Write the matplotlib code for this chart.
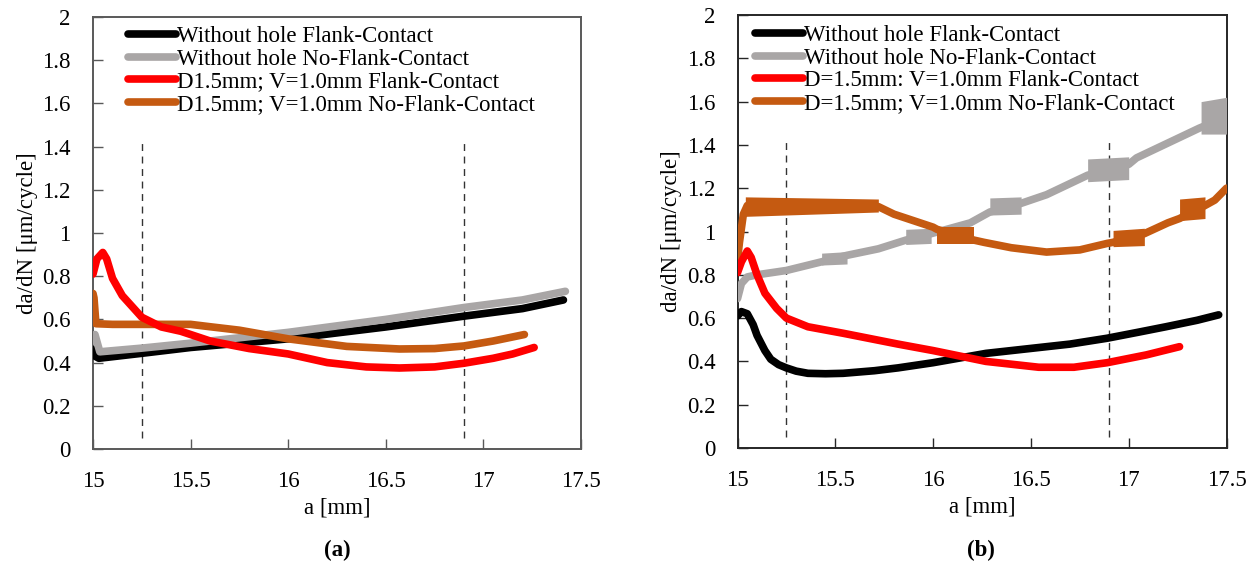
import matplotlib
matplotlib.use("Agg")
import matplotlib.pyplot as plt
import numpy as np

plt.rcParams['font.family'] = ['Liberation Serif', 'DejaVu Serif']
plt.rcParams['font.size'] = 16.5

# ---------------- data: panel (a) ----------------
a_blk_a = [15.0, 15.01, 15.03, 15.25, 15.5, 16.0, 16.5, 16.9, 17.2, 17.41]
v_blk_a = [0.46, 0.43, 0.42, 0.443, 0.47, 0.51, 0.565, 0.615, 0.65, 0.69]

a_gry_a = [15.0, 15.01, 15.035, 15.25, 15.5, 16.0, 16.5, 16.9, 17.2, 17.42]
v_gry_a = [0.50, 0.53, 0.45, 0.467, 0.49, 0.54, 0.60, 0.655, 0.69, 0.73]

a_red_a = [15.0, 15.02, 15.05, 15.07, 15.10, 15.15, 15.19, 15.25, 15.35, 15.45, 15.6,
           15.8, 16.0, 16.2, 16.4, 16.57, 16.75, 16.9, 17.05, 17.15, 17.26]
v_red_a = [0.81, 0.88, 0.91, 0.88, 0.79, 0.71, 0.67, 0.61, 0.565, 0.545, 0.50,
           0.465, 0.44, 0.40, 0.38, 0.375, 0.38, 0.397, 0.42, 0.44, 0.47]

a_org_a = [15.0, 15.005, 15.015, 15.1, 15.25, 15.5, 15.6, 15.75, 16.0, 16.3, 16.57,
           16.75, 16.9, 17.05, 17.21]
v_org_a = [0.72, 0.70, 0.58, 0.577, 0.577, 0.577, 0.566, 0.55, 0.51, 0.475, 0.463,
           0.465, 0.477, 0.50, 0.53]

labels_a = ["Without hole Flank-Contact", "Without hole No-Flank-Contact",
            "D1.5mm; V=1.0mm Flank-Contact", "D1.5mm; V=1.0mm No-Flank-Contact"]

# ---------------- data: panel (b) ----------------
a_blk_b = [15.0, 15.02, 15.05, 15.08, 15.10, 15.14, 15.17, 15.21, 15.25, 15.3, 15.36,
           15.45, 15.54, 15.7, 15.82, 16.0, 16.27, 16.5, 16.7, 16.89, 17.05, 17.19,
           17.35, 17.46]
v_blk_b = [0.61, 0.63, 0.62, 0.57, 0.52, 0.45, 0.41, 0.385, 0.37, 0.355, 0.345,
           0.343, 0.345, 0.357, 0.37, 0.394, 0.437, 0.46, 0.48, 0.507, 0.535, 0.56,
           0.59, 0.615]

a_gry_b = [15.0, 15.02, 15.05, 15.1, 15.25, 15.43, 15.56, 15.72, 15.86, 15.99, 16.19,
           16.29, 16.45, 16.58, 16.79, 17.0, 17.04, 17.36, 17.5]
v_gry_b = [0.69, 0.76, 0.79, 0.80, 0.82, 0.86, 0.89, 0.92, 0.96, 0.99, 1.04,
           1.09, 1.13, 1.17, 1.26, 1.31, 1.34, 1.477, 1.53]
# oscillation bands: (a start, a end, low start, low end, high start, high end)
bands_gry_b = [(15.43, 15.56, 0.845, 0.85, 0.90, 0.907),
               (15.86, 15.99, 0.94, 0.945, 1.01, 1.015),
               (16.29, 16.45, 1.076, 1.08, 1.155, 1.16),
               (16.79, 17.00, 1.23, 1.24, 1.335, 1.345),
               (17.37, 17.50, 1.45, 1.45, 1.60, 1.62)]

a_org_b = [15.0, 15.01, 15.03, 15.05, 15.3, 15.5, 15.72, 15.8, 16.0, 16.02, 16.21,
           16.26, 16.4, 16.58, 16.75, 16.89, 16.92, 17.08, 17.2, 17.26, 17.39, 17.44, 17.5]
v_org_b = [0.87, 0.95, 1.08, 1.12, 1.12, 1.12, 1.115, 1.08, 1.02, 1.01, 0.96,
           0.95, 0.925, 0.905, 0.915, 0.945, 0.95, 0.99, 1.04, 1.06, 1.12, 1.145, 1.20]
bands_org_b = [(15.04, 15.72, 1.07, 1.09, 1.16, 1.15),
               (16.02, 16.21, 0.94, 0.94, 1.02, 1.02),
               (16.92, 17.08, 0.93, 0.935, 1.005, 1.015),
               (17.26, 17.39, 1.05, 1.06, 1.15, 1.16)]

a_red_b = [15.0, 15.02, 15.05, 15.07, 15.10, 15.14, 15.2, 15.25, 15.36, 15.54, 15.82,
           16.0, 16.27, 16.54, 16.72, 16.89, 17.09, 17.26]
v_red_b = [0.81, 0.86, 0.91, 0.88, 0.80, 0.715, 0.645, 0.60, 0.56, 0.53, 0.48,
           0.45, 0.40, 0.373, 0.373, 0.394, 0.43, 0.468]

labels_b = ["Without hole Flank-Contact", "Without hole No-Flank-Contact",
            "D=1.5mm: V=1.0mm Flank-Contact", "D=1.5mm; V=1.0mm No-Flank-Contact"]

dashed_x = [15.25, 16.9]
x_ticks = [15, 15.5, 16, 16.5, 17, 17.5]
x_ticklabels = ["15", "15.5", "16", "16.5", "17", "17.5"]
y_ticks = [0, 0.2, 0.4, 0.6, 0.8, 1.0, 1.2, 1.4, 1.6, 1.8, 2.0]
y_ticklabels = ["0", "0.2", "0.4", "0.6", "0.8", "1", "1.2", "1.4", "1.6", "1.8", "2"]

C_BLK = "#000000"
C_GRY = "#A9A6A6"
C_RED = "#FF0000"
C_ORG = "#C55A11"
LW = 5.5

fig = plt.figure(figsize=(12.58, 5.63), dpi=100)
W, H = 1258, 563
ax1 = fig.add_axes([93 / W, (H - 449) / H, 488 / W, 432 / H])
ax2 = fig.add_axes([737.5 / W, (H - 448) / H, 489 / W, 433 / H])


def style(ax, spine_col):
    ax.set_xlim(15, 17.5)
    ax.set_ylim(0, 2)
    ax.set_xticks(x_ticks)
    ax.set_xticklabels(x_ticklabels)
    ax.set_yticks(y_ticks)
    ax.set_yticklabels(y_ticklabels)
    ax.tick_params(direction='in', length=7, width=1.0, color=spine_col, pad=16,
                   labelsize=16.5)
    for s in ax.spines.values():
        s.set_color(spine_col)
        s.set_linewidth(1.4)
    ax.set_xlabel("a [mm]", labelpad=4)
    ax.set_ylabel("da/dN [μm/cycle]", labelpad=3)
    for xd in dashed_x:
        ax.plot([xd, xd], [0.05, 1.42], color="#333333", lw=1.0,
                dashes=(5, 4), zorder=1)


def bands(ax, blist, color, z):
    for (x0, x1, l0, l1, h0, h1) in blist:
        ax.fill_between([x0, x1], [l0, l1], [h0, h1], color=color, lw=0, zorder=z)


style(ax1, "#595959")
style(ax2, "#262626")

kw = dict(lw=LW, solid_capstyle='round', solid_joinstyle='round')
h1 = ax1.plot(a_blk_a, v_blk_a, color=C_BLK, zorder=3, **kw)[0]
h2 = ax1.plot(a_gry_a, v_gry_a, color=C_GRY, zorder=3, **kw)[0]
h4 = ax1.plot(a_org_a, v_org_a, color=C_ORG, zorder=4, **kw)[0]
h3 = ax1.plot(a_red_a, v_red_a, color=C_RED, zorder=5, **kw)[0]

g1 = ax2.plot(a_blk_b, v_blk_b, color=C_BLK, zorder=3, **kw)[0]
g2 = ax2.plot(a_gry_b, v_gry_b, color=C_GRY, zorder=3, **kw)[0]
bands(ax2, bands_gry_b, C_GRY, 3)
g4 = ax2.plot(a_org_b, v_org_b, color=C_ORG, zorder=4, **kw)[0]
bands(ax2, bands_org_b, C_ORG, 4)
g3 = ax2.plot(a_red_b, v_red_b, color=C_RED, zorder=5, **kw)[0]

leg_kw = dict(loc='upper left', frameon=False, handlelength=2.1, handletextpad=0.05,
              labelspacing=0.07, borderpad=0, borderaxespad=0, fontsize=16.5)
ax1.legend([h1, h2, h3, h4], labels_a, bbox_to_anchor=(0.072, 0.979), **leg_kw)
ax2.legend([g1, g2, g3, g4], labels_b, bbox_to_anchor=(0.036, 0.977), **leg_kw)

fig.text(337 / W, 1 - 550 / H, "(a)", ha='center', va='center', fontweight='bold',
         fontsize=16.5)
fig.text(981 / W, 1 - 550 / H, "(b)", ha='center', va='center', fontweight='bold',
         fontsize=16.5)

fig.savefig("out.png", dpi=100)
